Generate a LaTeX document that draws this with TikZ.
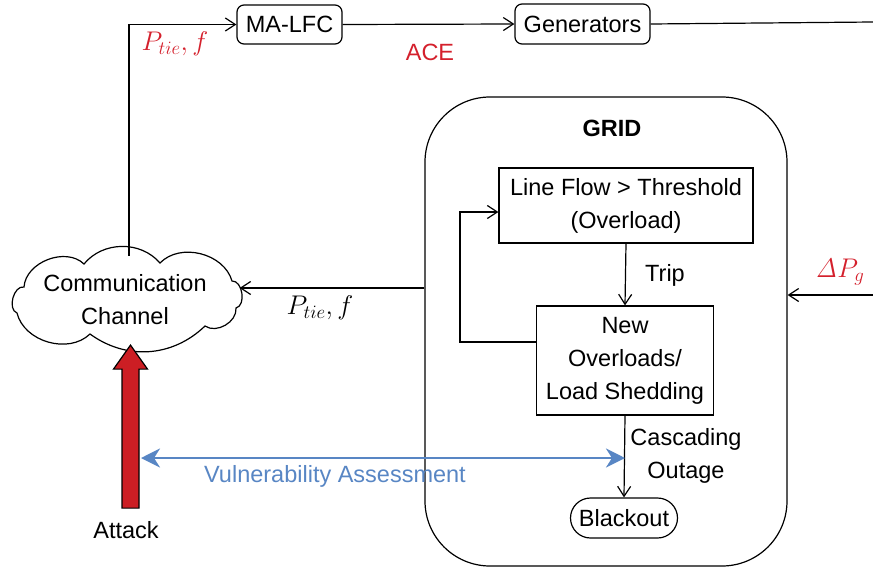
\RequirePackage{fix-cm}
\documentclass[tikz,border=0pt]{standalone}
\usepackage[no-math]{fontspec}
\setmainfont{Liberation Sans}
\usetikzlibrary{arrows.meta,calc}
\definecolor{alertred}{RGB}{212,32,44}
\definecolor{assessblue}{RGB}{88,134,196}
\definecolor{attackred}{RGB}{204,30,36}

\begin{document}
\begin{tikzpicture}[x=1pt,y=-1pt,
  font=\fontsize{23.5}{33}\selectfont,
  line width=1.2pt,
  flow/.style={-{Straight Barb[length=10pt,width=13pt,line width=1.2pt]}},
  rbox/.style={draw,rounded corners=7pt,inner sep=0pt},
  sbox/.style={draw,inner sep=0pt,align=center},
  lbl/.style={inner sep=0pt,align=center},
  redlbl/.style={lbl,text=alertred},
  mathlbl/.style={lbl,font=\fontsize{27}{30}\selectfont},
  assess/.style={assessblue,line width=2.6pt,
    {Stealth[length=19pt,width=19pt,inset=6pt]}-{Stealth[length=19pt,width=19pt,inset=6pt]}},
  attack/.style={draw=black,fill=attackred,line width=1.2pt,line join=miter}
]
\useasboundingbox (0,0) rectangle (873,568);

% control loop along the top
\node[rbox,minimum width=105pt,minimum height=39pt] (malfc) at (289.5,24.5) {MA-LFC};
\node[rbox,minimum width=135pt,minimum height=40pt] (gen) at (582.5,24) {Generators};
\node[redlbl] (ace) at (430,52) {ACE};
\node[mathlbl,text=alertred] (ptieA) at (175,44) {$P_{tie}, f$};

% communication channel: a hand-drawn cloud outline around its text
\node[lbl,minimum width=240pt,minimum height=92pt] (comm) at (125,299.5) {Communication\\Channel};
\draw (24,287) to[bend left=65] (84,264)
               to[bend left=50] (160,263)
               to[bend left=60] (232,281)
               to[bend left=85] (236,308)
               to[bend left=65] (205,326)
               to[bend left=40] (90,334)
               to[bend left=60] (17,313)
               to[bend left=85] cycle;

% grid with its internal cascade
\node[draw,rounded corners=65pt,minimum width=362pt,minimum height=469pt] (grid) at (606,331.5) {};
\node[lbl,font=\fontsize{23.5}{33}\selectfont\bfseries] (gridtitle) at (612,128) {GRID};
\node[sbox,minimum width=254pt,minimum height=75pt] (lineflow) at (626,205.5)
      {Line Flow > Threshold\\(Overload)};
\node[sbox,minimum width=177pt,minimum height=109pt] (newbox) at (625,360.5)
      {New\\Overloads/\\Load Shedding};
\node[draw,rounded corners=20pt,minimum width=107pt,minimum height=40pt,inner sep=0pt] (blackout) at (624,518) {Blackout};
\node[lbl] (trip) at (665,275) {Trip};
\node[lbl] (cascade) at (686,455.5) {Cascading\\Outage};

% measurement labels
\node[mathlbl] (ptieB) at (320,308) {$P_{tie}, f$};
\node[mathlbl,text=alertred] (dpg) at (840,272) {$\mathit{\Delta} P_g$};

\node[lbl,text=assessblue] (vuln) at (335,476) {Vulnerability Assessment};
\node[lbl] (attacklbl) at (126,530) {Attack};

% free ends at the picture border
\coordinate (edgeA) at (873,22);
\coordinate (edgeB) at (873,295);

% connectors
\draw[flow] ($(comm.north)+(4,3)$) |- (malfc.west);
\draw[flow] (malfc.east) -- (gen.west);
\draw (gen.east) -- (edgeA);
\draw[flow] (edgeB) -- (grid.east |- edgeB);
\draw[flow] (grid.west |- 0,288) -- ($(comm.east)+(-6,-11.5)$);
\draw[flow] (lineflow.south) -- (newbox.north);
\draw[flow] ($(newbox.west)+(0,-18.5)$) -- ++(-76,0) |- ($(lineflow.west)+(0,6.5)$);
\draw[flow] (newbox.south) -- (blackout.north);

% vulnerability assessment span
\coordinate (vaL) at (141,458);
\coordinate (vaR) at (newbox.south |- 0,458);
\draw[assess] (vaL) -- (vaR);

% attack arrow into the channel
\coordinate (atktip) at ($(comm.south)+(5.5,-1)$);
\draw[attack] (atktip) -- ++(17,24) -- ++(-8.5,0) -- ++(0,139) -- ++(-17,0)
  -- ++(0,-139) -- ++(-8.5,0) -- cycle;
\end{tikzpicture}
\end{document}
